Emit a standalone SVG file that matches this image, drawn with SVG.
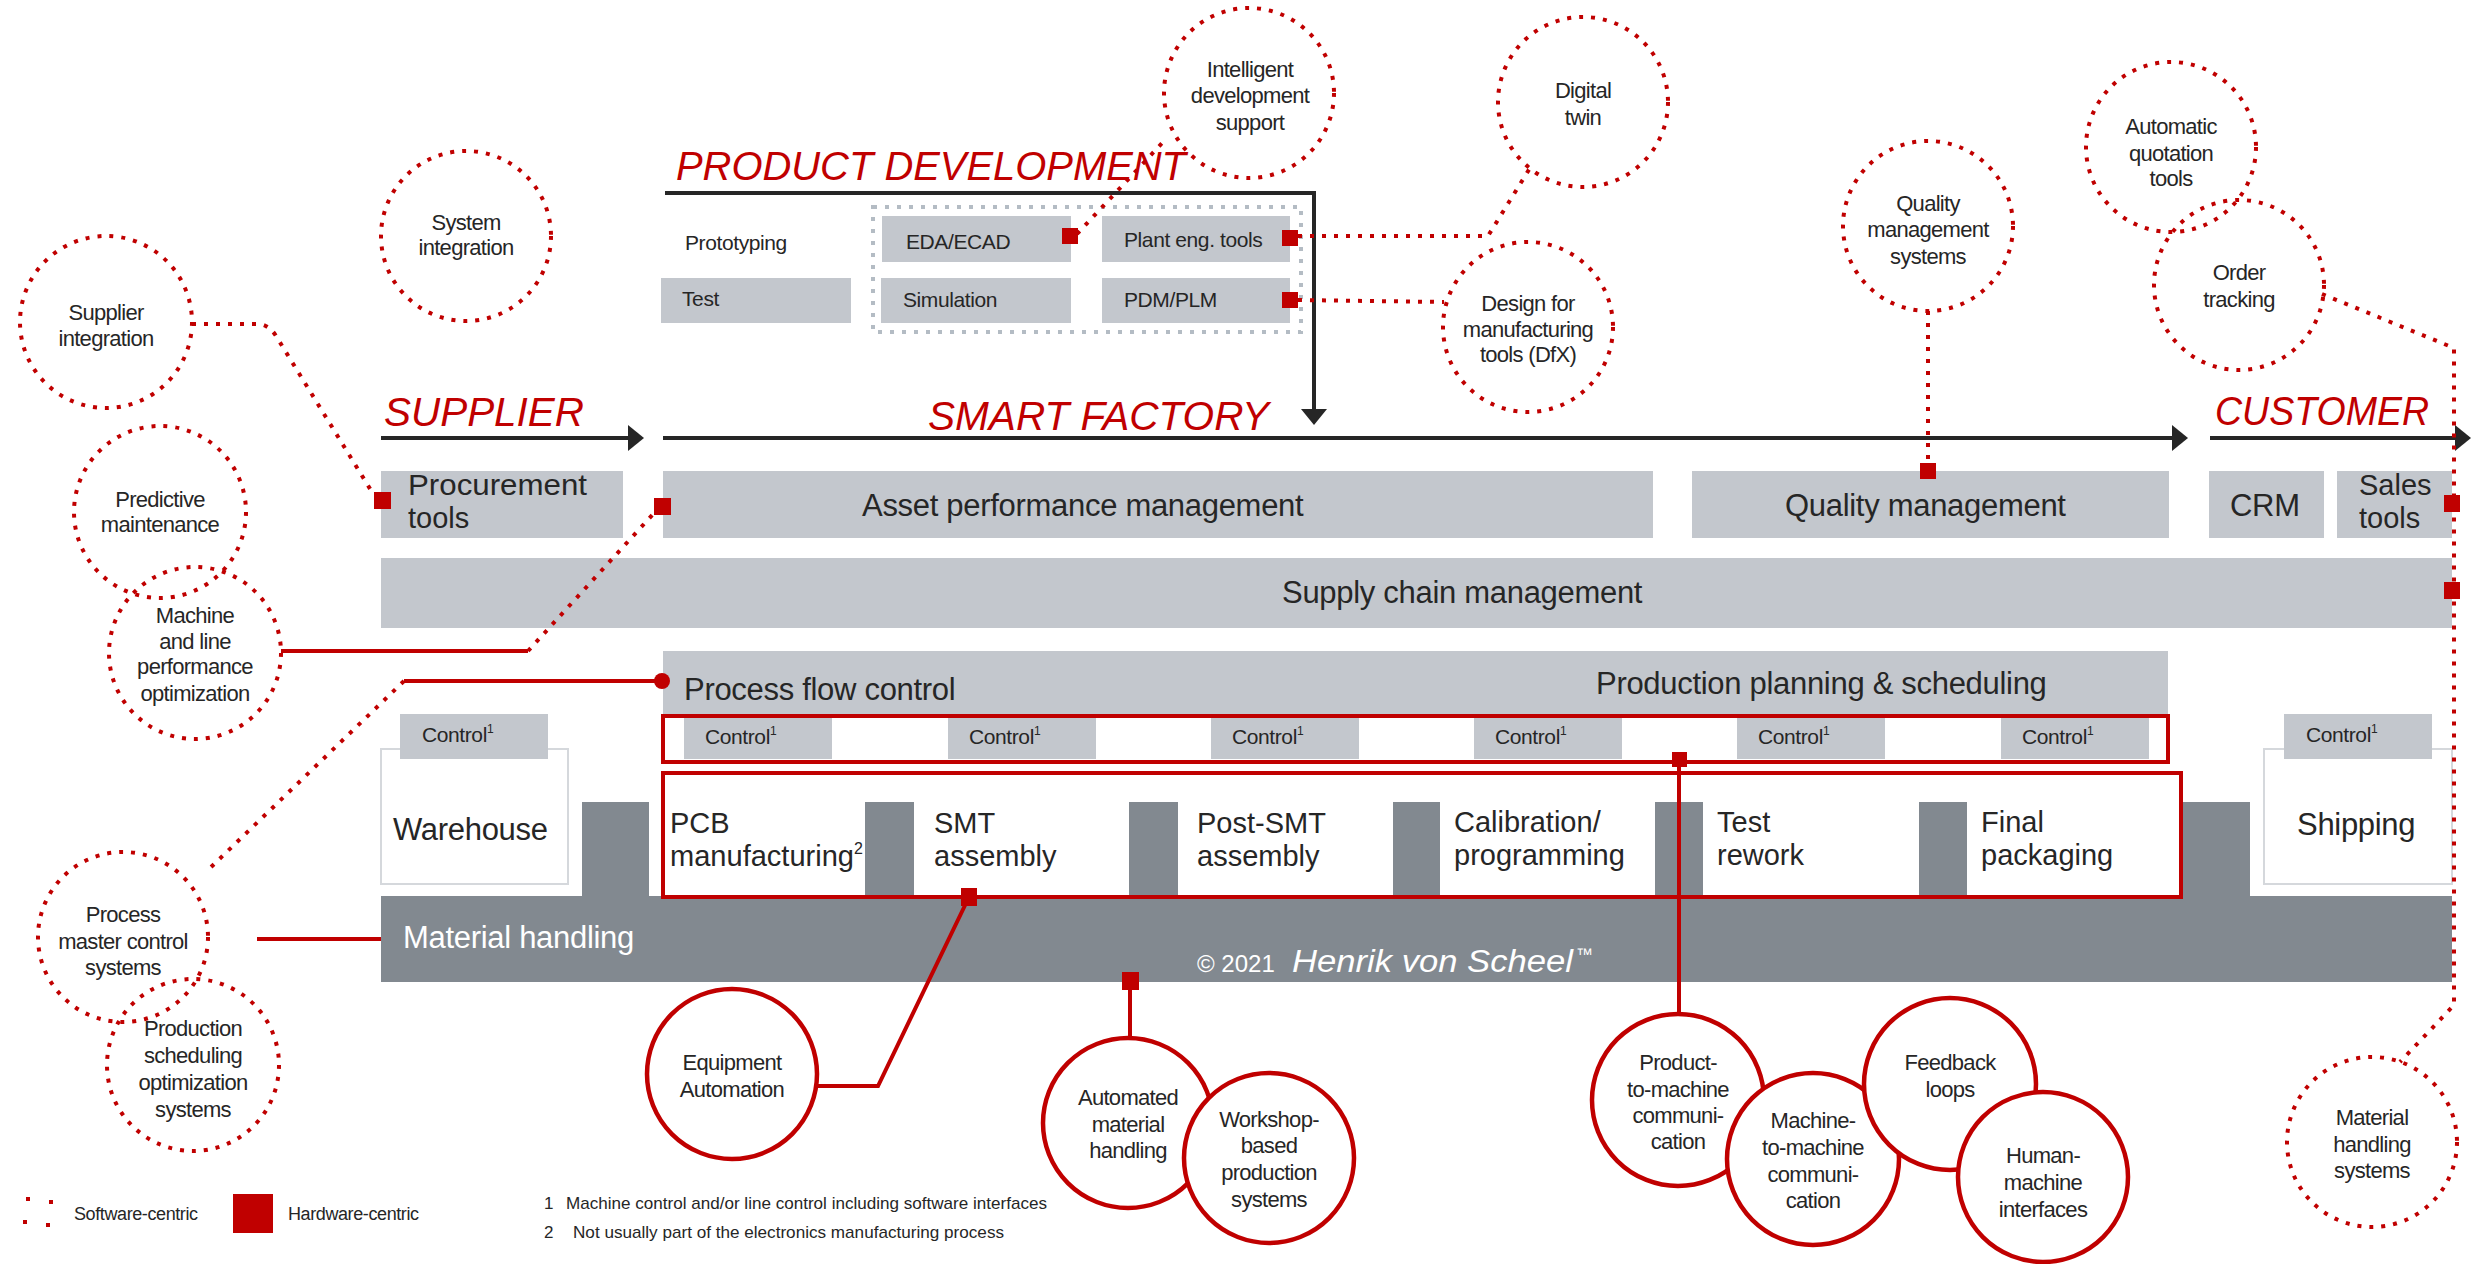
<svg xmlns="http://www.w3.org/2000/svg" width="2488" height="1264" viewBox="0 0 2488 1264">
<defs>
<style>
.bx{fill:#c3c7cd}
.mh{fill:#828990}
.t{font-family:"Liberation Sans",Arial,sans-serif;fill:#262626}
.big{font-size:31px;letter-spacing:-0.3px}
.two{font-size:29px;letter-spacing:0px}
.sm{font-size:21px;letter-spacing:-0.4px}
.ct{font-family:"Liberation Sans",Arial,sans-serif;fill:#262626;font-size:22px;text-anchor:middle;letter-spacing:-0.7px}
.hand{font-family:"Liberation Sans",Arial,sans-serif;font-style:italic;fill:#c00000;font-size:40px}
.dot{fill:none;stroke:#c00000;stroke-width:4;stroke-dasharray:4 8}
.gdot{fill:none;stroke:#b4bcc4;stroke-width:4;stroke-dasharray:4 8}
.rl{fill:none;stroke:#c00000;stroke-width:4}
.rc{fill:#fff;stroke:#c00000;stroke-width:4.5}
.sq{fill:#c00000}
.arr{fill:none;stroke:#262626;stroke-width:4}
.wh{fill:#fff;stroke:#d5d8dc;stroke-width:2}
.sup{font-size:12px}
.foot{font-family:"Liberation Sans",Arial,sans-serif;fill:#262626;font-size:17px}
</style>
<marker id="ah" markerUnits="userSpaceOnUse" markerWidth="18" markerHeight="28" refX="2" refY="13" orient="auto">
<path d="M0,0 L16,13 L0,26 z" fill="#262626"/>
</marker>
</defs>
<rect width="2488" height="1264" fill="#fff"/>

<!-- flow arrows and titles -->
<g id="titles">
<text class="hand" x="676" y="180" textLength="510" lengthAdjust="spacingAndGlyphs">PRODUCT DEVELOPMENT</text>
<text class="hand" x="384" y="426" textLength="200" lengthAdjust="spacingAndGlyphs">SUPPLIER</text>
<text class="hand" x="928" y="430" textLength="341" lengthAdjust="spacingAndGlyphs">SMART FACTORY</text>
<text class="hand" x="2215" y="425" textLength="214" lengthAdjust="spacingAndGlyphs">CUSTOMER</text>
</g>
<g id="flow-arrows">
<path class="arr" d="M665,193 L1314,193 L1314,411" marker-end="url(#ah)"/>
<path class="arr" d="M381,438 L630,438" marker-end="url(#ah)"/>
<path class="arr" d="M663,438 L2174,438" marker-end="url(#ah)"/>
<path class="arr" d="M2210,438 L2457,438" marker-end="url(#ah)"/>
</g>

<!-- product development tools -->
<g id="dev-tools">
<rect class="gdot" x="873" y="207" width="428" height="125"/>
<g id="n-prototyping"><text class="t sm" x="685" y="250">Prototyping</text></g>
<g id="n-test"><rect class="bx" x="661" y="278" width="190" height="45"/><text class="t sm" x="682" y="306">Test</text></g>
<g id="n-eda"><rect class="bx" x="882" y="216" width="189" height="46"/><text class="t sm" x="906" y="249">EDA/ECAD</text></g>
<g id="n-plant"><rect class="bx" x="1102" y="216" width="188" height="46"/><text class="t sm" x="1124" y="247">Plant eng. tools</text></g>
<g id="n-sim"><rect class="bx" x="881" y="278" width="190" height="45"/><text class="t sm" x="903" y="307">Simulation</text></g>
<g id="n-pdm"><rect class="bx" x="1102" y="278" width="188" height="45"/><text class="t sm" x="1124" y="307">PDM/PLM</text></g>
</g>

<!-- main blocks -->
<g id="n-procurement"><rect class="bx" x="381" y="471" width="242" height="67"/><text class="t two"><tspan x="408" y="495" textLength="179" lengthAdjust="spacingAndGlyphs">Procurement</tspan><tspan x="408" y="528">tools</tspan></text></g>
<g id="n-asset"><rect class="bx" x="663" y="471" width="990" height="67"/><text class="t big" x="862" y="516">Asset performance management</text></g>
<g id="n-quality"><rect class="bx" x="1692" y="471" width="477" height="67"/><text class="t big" x="1785" y="516">Quality management</text></g>
<g id="n-crm"><rect class="bx" x="2209" y="471" width="115" height="67"/><text class="t big" x="2230" y="516">CRM</text></g>
<g id="n-sales"><rect class="bx" x="2337" y="471" width="115" height="67"/><text class="t two"><tspan x="2359" y="495">Sales</tspan><tspan x="2359" y="528">tools</tspan></text></g>
<g id="n-scm"><rect class="bx" x="381" y="558" width="2071" height="70"/><text class="t big" x="1282" y="603">Supply chain management</text></g>
<g id="n-processflow"><rect class="bx" x="663" y="651" width="1505" height="66"/><text class="t big" x="684" y="700">Process flow control</text><text class="t big" x="1596" y="694">Production planning &amp; scheduling</text></g>

<!-- control row -->
<g id="n-controls">
<rect class="bx" x="684" y="718" width="148" height="41"/><text class="t sm" x="705" y="744">Control<tspan class="sup" dy="-9">1</tspan></text>
<rect class="bx" x="948" y="718" width="148" height="41"/><text class="t sm" x="969" y="744">Control<tspan class="sup" dy="-9">1</tspan></text>
<rect class="bx" x="1211" y="718" width="148" height="41"/><text class="t sm" x="1232" y="744">Control<tspan class="sup" dy="-9">1</tspan></text>
<rect class="bx" x="1474" y="718" width="148" height="41"/><text class="t sm" x="1495" y="744">Control<tspan class="sup" dy="-9">1</tspan></text>
<rect class="bx" x="1737" y="718" width="148" height="41"/><text class="t sm" x="1758" y="744">Control<tspan class="sup" dy="-9">1</tspan></text>
<rect class="bx" x="2001" y="718" width="148" height="41"/><text class="t sm" x="2022" y="744">Control<tspan class="sup" dy="-9">1</tspan></text>
<rect class="rl" x="663" y="716" width="1505" height="46"/>
</g>

<!-- material handling and stations -->
<g id="n-materialhandling">
<rect class="mh" x="381" y="896" width="2071" height="86"/>
<rect class="mh" x="582" y="802" width="67" height="95"/>
<rect class="mh" x="865" y="802" width="49" height="95"/>
<rect class="mh" x="1129" y="802" width="49" height="95"/>
<rect class="mh" x="1393" y="802" width="47" height="95"/>
<rect class="mh" x="1655" y="802" width="48" height="95"/>
<rect class="mh" x="1919" y="802" width="48" height="95"/>
<rect class="mh" x="2182" y="802" width="68" height="95"/>
<text x="403" y="948" style="font-family:'Liberation Sans',Arial,sans-serif;font-size:31px;fill:#fff;letter-spacing:-0.3px">Material handling</text>
<text x="1197" y="972" style="font-family:'Liberation Sans',Arial,sans-serif;font-size:24px;fill:#fff">© 2021 <tspan x="1292" textLength="281" lengthAdjust="spacingAndGlyphs" style="font-style:italic;font-size:31px">Henrik von Scheel</tspan><tspan x="1576" dy="-12" style="font-size:17px">™</tspan></text>
</g>
<g id="n-warehouse"><rect class="wh" x="381" y="749" width="187" height="135"/><rect class="bx" x="400" y="714" width="148" height="45"/><text class="t sm" x="422" y="742">Control<tspan class="sup" dy="-9">1</tspan></text><text class="t big" x="393" y="840">Warehouse</text></g>
<g id="n-shipping"><rect class="wh" x="2264" y="749" width="188" height="135"/><rect class="bx" x="2284" y="714" width="148" height="45"/><text class="t sm" x="2306" y="742">Control<tspan class="sup" dy="-9">1</tspan></text><text class="t big" x="2297" y="835">Shipping</text></g>
<g id="n-stations">
<g id="n-pcb"><text class="t two"><tspan x="670" y="833">PCB</tspan><tspan x="670" y="866" textLength="184" lengthAdjust="spacingAndGlyphs">manufacturing</tspan><tspan font-size="16" dy="-12">2</tspan></text></g>
<g id="n-smt"><text class="t two"><tspan x="934" y="833">SMT</tspan><tspan x="934" y="866">assembly</tspan></text></g>
<g id="n-postsmt"><text class="t two"><tspan x="1197" y="833">Post-SMT</tspan><tspan x="1197" y="866">assembly</tspan></text></g>
<g id="n-calib"><text class="t two"><tspan x="1454" y="832">Calibration/</tspan><tspan x="1454" y="865">programming</tspan></text></g>
<g id="n-rework"><text class="t two"><tspan x="1717" y="832">Test</tspan><tspan x="1717" y="865">rework</tspan></text></g>
<g id="n-final"><text class="t two"><tspan x="1981" y="832">Final</tspan><tspan x="1981" y="865">packaging</tspan></text></g>
<rect class="rl" x="663" y="773" width="1518" height="124"/>
</g>

<!-- connectors -->
<g id="connectors">
<path class="dot" d="M192,324 L260,324 Q270,326 276,336 L372,492"/>
<path class="dot" d="M1077,234 L1165,140"/>
<path class="dot" d="M1298,236 L1488,236 L1530,168"/>
<path class="dot" d="M1298,300 L1444,302"/>
<path class="dot" d="M1928,311 L1928,463"/>
<path class="dot" d="M2322,294 L2454,348 L2454,1005 L2400,1062"/>
<path class="dot" d="M528,651 L655,512"/>
<path class="dot" d="M404,681 L208,870"/>
<path class="rl" d="M281,651 L528,651"/>
<path class="rl" d="M404,681 L655,681"/>
<circle cx="662" cy="681" r="8" fill="#c00000"/>
<path class="rl" d="M257,939 L381,939"/>
<path class="rl" d="M817,1086 L878,1086 L969,897"/>
<path class="rl" d="M1130,981 L1130,1038"/>
<path class="rl" d="M1679,760 L1679,1014"/>
<rect class="sq" x="374" y="492" width="17" height="17"/>
<rect class="sq" x="654" y="498" width="17" height="17"/>
<rect class="sq" x="1062" y="228" width="16" height="16"/>
<rect class="sq" x="1282" y="230" width="16" height="16"/>
<rect class="sq" x="1282" y="292" width="16" height="16"/>
<rect class="sq" x="1920" y="463" width="16" height="16"/>
<rect class="sq" x="2444" y="495" width="16" height="17"/>
<rect class="sq" x="2444" y="582" width="16" height="17"/>
<rect class="sq" x="961" y="888" width="16" height="18"/>
<rect class="sq" x="1122" y="972" width="17" height="18"/>
<rect class="sq" x="1672" y="752" width="15" height="15"/>
</g>

<!-- software-centric (dotted) circles -->
<g id="n-sysint"><circle class="dot" cx="466" cy="236" r="85"/><text class="ct"><tspan x="466" y="230">System</tspan><tspan x="466" y="255">integration</tspan></text></g>
<g id="n-supint"><circle class="dot" cx="106" cy="322" r="86"/><text class="ct"><tspan x="106" y="320">Supplier</tspan><tspan x="106" y="346">integration</tspan></text></g>
<g id="n-predict"><circle class="dot" cx="160" cy="512" r="86"/><text class="ct"><tspan x="160" y="507">Predictive</tspan><tspan x="160" y="532">maintenance</tspan></text></g>
<g id="n-machline"><circle class="dot" cx="195" cy="653" r="86"/><text class="ct"><tspan x="195" y="623">Machine</tspan><tspan x="195" y="649">and line</tspan><tspan x="195" y="674">performance</tspan><tspan x="195" y="701">optimization</tspan></text></g>
<g id="n-pmcs"><circle class="dot" cx="123" cy="937" r="85"/><text class="ct"><tspan x="123" y="922">Process</tspan><tspan x="123" y="949">master control</tspan><tspan x="123" y="975">systems</tspan></text></g>
<g id="n-psos"><circle class="dot" cx="193" cy="1065" r="86"/><text class="ct"><tspan x="193" y="1036">Production</tspan><tspan x="193" y="1063">scheduling</tspan><tspan x="193" y="1090">optimization</tspan><tspan x="193" y="1117">systems</tspan></text></g>
<g id="n-ids"><circle class="dot" cx="1249" cy="93" r="85"/><text class="ct"><tspan x="1250" y="77">Intelligent</tspan><tspan x="1250" y="103">development</tspan><tspan x="1250" y="130">support</tspan></text></g>
<g id="n-twin"><circle class="dot" cx="1583" cy="102" r="85"/><text class="ct"><tspan x="1583" y="98">Digital</tspan><tspan x="1583" y="125">twin</tspan></text></g>
<g id="n-dfx"><circle class="dot" cx="1528" cy="327" r="85"/><text class="ct"><tspan x="1528" y="311">Design for</tspan><tspan x="1528" y="337">manufacturing</tspan><tspan x="1528" y="362">tools (DfX)</tspan></text></g>
<g id="n-qms"><circle class="dot" cx="1928" cy="226" r="85"/><text class="ct"><tspan x="1928" y="211">Quality</tspan><tspan x="1928" y="237">management</tspan><tspan x="1928" y="264">systems</tspan></text></g>
<g id="n-aqt"><circle class="dot" cx="2171" cy="147" r="85"/><text class="ct"><tspan x="2171" y="134">Automatic</tspan><tspan x="2171" y="161">quotation</tspan><tspan x="2171" y="186">tools</tspan></text></g>
<g id="n-order"><circle class="dot" cx="2239" cy="285" r="85"/><text class="ct"><tspan x="2239" y="280">Order</tspan><tspan x="2239" y="307">tracking</tspan></text></g>
<g id="n-mhs"><circle class="dot" cx="2372" cy="1142" r="85"/><text class="ct"><tspan x="2372" y="1125">Material</tspan><tspan x="2372" y="1152">handling</tspan><tspan x="2372" y="1178">systems</tspan></text></g>

<!-- hardware-centric (solid) circles -->
<g id="n-equip"><circle class="rc" cx="732" cy="1074" r="85"/><text class="ct"><tspan x="732" y="1070">Equipment</tspan><tspan x="732" y="1097">Automation</tspan></text></g>
<g id="n-amh"><circle class="rc" cx="1128" cy="1123" r="85"/><text class="ct"><tspan x="1128" y="1105">Automated</tspan><tspan x="1128" y="1132">material</tspan><tspan x="1128" y="1158">handling</tspan></text></g>
<g id="n-wbps"><circle class="rc" cx="1269" cy="1158" r="85"/><text class="ct"><tspan x="1269" y="1127">Workshop-</tspan><tspan x="1269" y="1153">based</tspan><tspan x="1269" y="1180">production</tspan><tspan x="1269" y="1207">systems</tspan></text></g>
<g id="n-p2m"><circle class="rc" cx="1678" cy="1100" r="86"/><text class="ct"><tspan x="1678" y="1070">Product-</tspan><tspan x="1678" y="1097">to-machine</tspan><tspan x="1678" y="1123">communi-</tspan><tspan x="1678" y="1149">cation</tspan></text></g>
<g id="n-m2m"><circle class="rc" cx="1813" cy="1159" r="86"/><text class="ct"><tspan x="1813" y="1128">Machine-</tspan><tspan x="1813" y="1155">to-machine</tspan><tspan x="1813" y="1182">communi-</tspan><tspan x="1813" y="1208">cation</tspan></text></g>
<g id="n-feedback"><circle class="rc" cx="1950" cy="1084" r="86"/><text class="ct"><tspan x="1950" y="1070">Feedback</tspan><tspan x="1950" y="1097">loops</tspan></text></g>
<g id="n-hmi"><circle class="rc" cx="2043" cy="1177" r="85"/><text class="ct"><tspan x="2043" y="1163">Human-</tspan><tspan x="2043" y="1190">machine</tspan><tspan x="2043" y="1217">interfaces</tspan></text></g>

<!-- legend and footnotes -->
<g id="legend">
<rect class="sq" x="26" y="1197" width="4" height="4"/><rect class="sq" x="49" y="1200" width="4" height="4"/><rect class="sq" x="23" y="1220" width="4" height="4"/><rect class="sq" x="46" y="1223" width="4" height="4"/>
<text class="t" x="74" y="1220" style="font-size:18px;letter-spacing:-0.4px">Software-centric</text>
<rect class="sq" x="233" y="1194" width="40" height="39"/>
<text class="t" x="288" y="1220" style="font-size:18px;letter-spacing:-0.4px">Hardware-centric</text>
</g>
<g id="footnotes">
<text class="foot"><tspan x="544" y="1209">1</tspan><tspan x="566" y="1209" textLength="481" lengthAdjust="spacingAndGlyphs">Machine control and/or line control including software interfaces</tspan><tspan x="544" y="1238">2</tspan><tspan x="573" y="1238" textLength="431" lengthAdjust="spacingAndGlyphs">Not usually part of the electronics manufacturing process</tspan></text>
</g>
</svg>
